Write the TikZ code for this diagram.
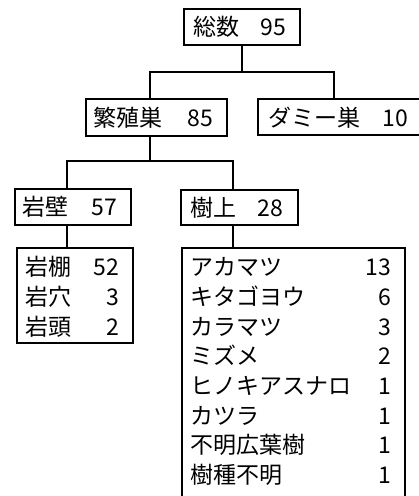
\documentclass[tikz,border=0pt]{standalone}
\usepackage{fontspec}
\setmainfont{Noto Sans CJK JP}
\begin{document}
\begin{tikzpicture}[x=1pt,y=-1pt,
  box/.style={draw, line width=1.4pt, anchor=north west, inner sep=0pt, outer sep=0pt},
  conn/.style={line width=1.4pt},
  stem/.style={line width=2.6pt},
  txt/.style={inner sep=0pt, outer sep=0pt, font=\fontsize{23}{27}\selectfont, text height=20.2pt, text depth=2.8pt},
  lbl/.style={txt, anchor=west},
  num/.style={txt, anchor=east}]
\clip (0,0) rectangle (419,496);
% boxes
\node[box, minimum width=116pt, minimum height=36pt] (tot) at (184,9) {};
\node[box, minimum width=141pt, minimum height=37pt] (han) at (86,99) {};
\node[box, minimum width=172pt, minimum height=36pt] (dum) at (258,99) {};
\node[box, minimum width=116pt, minimum height=36pt] (gan) at (15,189) {};
\node[box, minimum width=117pt, minimum height=35pt] (jyu) at (181,190) {};
\node[box, minimum width=116pt, minimum height=95pt] (tana) at (17,248) {};
\node[box, minimum width=223pt, minimum height=270pt] (tree) at (182,248) {};
% single-box texts
\node[lbl] (totL) at (193,27) {総数};
\node[num] (totN) at (286,27) {95};
\node[lbl] (hanL) at (93,117.5) {繁殖巣};
\node[num] (hanN) at (213,117.5) {85};
\node[lbl] (dumL) at (268,117.5) {ダミー巣};
\node[num] (dumN) at (408,117.5) {10};
\node[lbl] (ganL) at (23,207) {岩壁};
\node[num] (ganN) at (117,207) {57};
\node[lbl] (jyuL) at (190,207.5) {樹上};
\node[num] (jyuN) at (283,207.5) {28};
% rock list
\foreach \l/\n [count=\i from 0] in {岩棚/52,岩穴/3,岩頭/2}
  {\node[lbl] (tanaL\i) at (26,267+30*\i) {\l};
   \node[num] (tanaN\i) at (119,267+30*\i) {\n};}
% tree list
\foreach \l/\n [count=\i from 0] in {アカマツ/13,キタゴヨウ/6,カラマツ/3,ミズメ/2,ヒノキアスナロ/1,カツラ/1,不明広葉樹/1,樹種不明/1}
  {\node[lbl] (treeL\i) at (190,267+29.7*\i) {\l};
   \node[num] (treeN\i) at (391,267+29.7*\i) {\n};}
% connectors
\coordinate (j1) at (242,72);
\coordinate (j2) at (150,161);
\draw[stem] (tot.south) -- (j1);
\draw[conn] ([xshift=-6.5pt]han.north) |- (j1) -| ([xshift=-10pt]dum.north);
\draw[conn] ([xshift=-6.5pt]han.south) -- (j2);
\draw[conn] ([xshift=-6pt]gan.north) |- (j2) -| ([xshift=-6.5pt]jyu.north);
\draw[conn] ([xshift=-6pt]gan.south) -- ([xshift=-6pt]gan.south |- tana.north);
\draw[conn] ([xshift=-6.5pt]jyu.south) -- ([xshift=-6.5pt]jyu.south |- tree.north);
\end{tikzpicture}
\end{document}
